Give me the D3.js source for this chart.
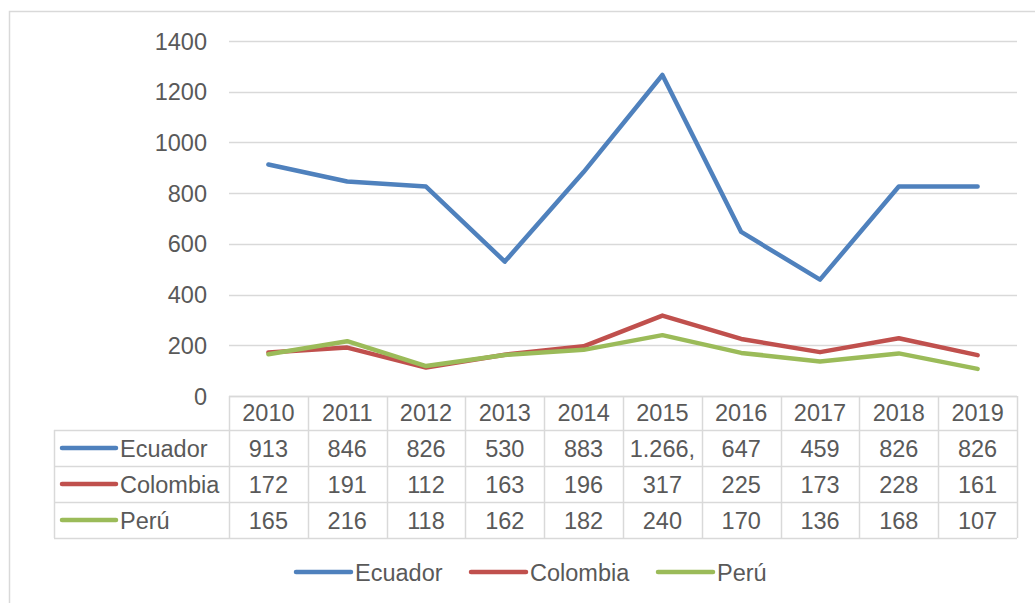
<!DOCTYPE html>
<html>
<head>
<meta charset="utf-8">
<script src="https://cdn.jsdelivr.net/npm/d3@7"></script>
<style>
  body { margin: 0; background: #fff; }
  text { font-family: "Liberation Sans", Arial, sans-serif; fill: #595959; font-size: 23.5px; }
</style>
</head>
<body>
<div id="chart"></div>
<script>
const WIDTH = 1035;
const HEIGHT = 603;

const years = ["2010", "2011", "2012", "2013", "2014", "2015", "2016", "2017", "2018", "2019"];
const ecuador = [913, 846, 826, 530, 883, 1266, 647, 459, 826, 826];
const colombia = [172, 191, 112, 163, 196, 317, 225, 173, 228, 161];
const peru = [165, 216, 118, 162, 182, 240, 170, 136, 168, 107];
const seriesNames = ["Ecuador", "Colombia", "Perú"];
const seriesColors = ["#4f81bd", "#c0504d", "#9bbb59"];
const yTicks = [0, 200, 400, 600, 800, 1000, 1200, 1400];

const series = [ecuador, colombia, peru].map((values, i) => ({
  name: seriesNames[i],
  color: seriesColors[i],
  values: values
}));

// excel shows the thousands value cut off in its cell
const cellLabel = v => v >= 1000
  ? `${Math.floor(v / 1000)}.${String(v % 1000).padStart(3, "0")},`
  : String(v);

let svg = d3.select("#chart")
  .append("svg")
  .attr("width", WIDTH)
  .attr("height", HEIGHT);

svg.append("rect")
  .attr("x", 9.5).attr("y", 11.5)
  .attr("width", 1040).attr("height", 600)
  .attr("fill", "none").attr("stroke", "#d9d9d9").attr("stroke-width", 1.5);

let xAxis = d3.scaleBand().domain(years).range([229, 1017]);
let yAxis = d3.scaleLinear().domain([0, 1400]).range([396, 41]);
const cx = y => xAxis(y) + xAxis.bandwidth() / 2;

// gridlines + y labels
svg.append("g")
  .selectAll("line")
  .data(yTicks)
  .enter()
  .append("line")
  .attr("x1", 229).attr("x2", 1017)
  .attr("y1", d => Math.round(yAxis(d)) + 0.5)
  .attr("y2", d => Math.round(yAxis(d)) + 0.5)
  .attr("stroke", "#d9d9d9").attr("stroke-width", 1.5);

svg.append("g")
  .selectAll("text")
  .data(yTicks)
  .enter()
  .append("text")
  .attr("x", 207)
  .attr("y", d => yAxis(d) + 8.5)
  .attr("text-anchor", "end")
  .text(d => d);

// lines
let line = d3.line()
  .x((d, i) => cx(years[i]))
  .y(d => yAxis(d));

svg.append("g")
  .selectAll("path")
  .data(series)
  .enter()
  .append("path")
  .attr("d", d => line(d.values))
  .attr("fill", "none")
  .attr("stroke", d => d.color)
  .attr("stroke-width", 4.5)
  .attr("stroke-linecap", "round")
  .attr("stroke-linejoin", "round");

// data table
const rowTops = [396, 430, 466, 502, 538];
let table = svg.append("g");

table.selectAll("line.h")
  .data(rowTops)
  .enter()
  .append("line")
  .attr("x1", (d, i) => i === 0 ? 229 : 54)
  .attr("x2", 1017)
  .attr("y1", d => d + 0.5).attr("y2", d => d + 0.5)
  .attr("stroke", "#d9d9d9").attr("stroke-width", 1.5);

const colEdges = years.map(y => xAxis(y)).concat([1017]);
table.selectAll("line.v")
  .data(colEdges)
  .enter()
  .append("line")
  .attr("x1", d => Math.round(d) + 0.5).attr("x2", d => Math.round(d) + 0.5)
  .attr("y1", 396).attr("y2", 538)
  .attr("stroke", "#d9d9d9").attr("stroke-width", 1.5);

table.append("line")
  .attr("x1", 54.5).attr("x2", 54.5)
  .attr("y1", 430).attr("y2", 538)
  .attr("stroke", "#d9d9d9").attr("stroke-width", 1.5);

table.selectAll("text.year")
  .data(years)
  .enter()
  .append("text")
  .attr("x", d => cx(d))
  .attr("y", 421)
  .attr("text-anchor", "middle")
  .text(d => d);

series.forEach((s, r) => {
  let rowMid = (rowTops[r + 1] + rowTops[r + 2]) / 2;
  table.append("line")
    .attr("x1", 62).attr("x2", 116)
    .attr("y1", rowMid).attr("y2", rowMid)
    .attr("stroke", s.color).attr("stroke-width", 4.5)
    .attr("stroke-linecap", "round");
  table.append("text")
    .attr("x", 120).attr("y", rowMid + 8.5)
    .text(s.name);
  table.append("g")
    .selectAll("text")
    .data(s.values)
    .enter()
    .append("text")
    .attr("x", (d, i) => cx(years[i]))
    .attr("y", rowMid + 8.5)
    .attr("text-anchor", "middle")
    .text(d => cellLabel(d));
});

// legend
const legendX = [296, 471, 658];
let legend = svg.append("g");
series.forEach((s, i) => {
  legend.append("line")
    .attr("x1", legendX[i]).attr("x2", legendX[i] + 55)
    .attr("y1", 572).attr("y2", 572)
    .attr("stroke", s.color).attr("stroke-width", 4.5)
    .attr("stroke-linecap", "round");
  legend.append("text")
    .attr("x", legendX[i] + 59).attr("y", 580.5)
    .text(s.name);
});
</script>
</body>
</html>
